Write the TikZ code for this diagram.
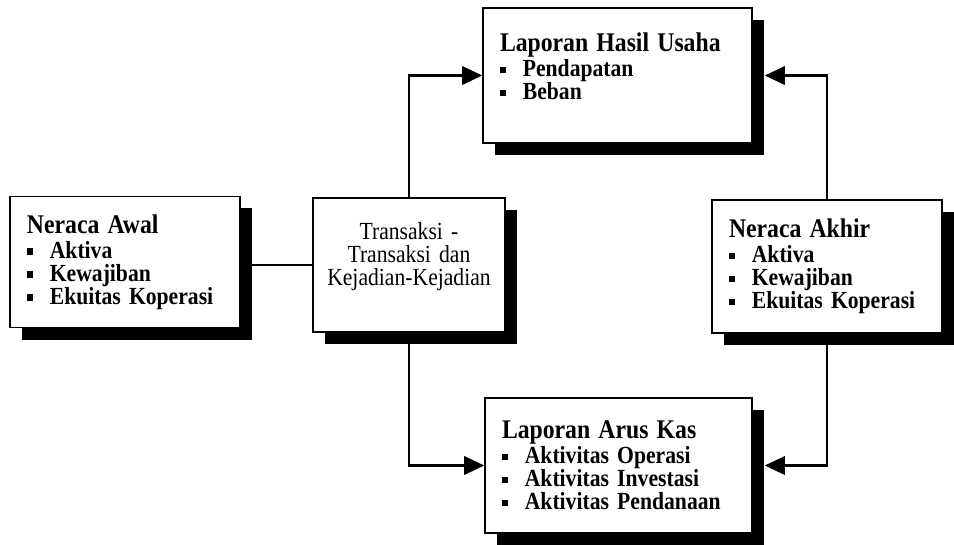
\documentclass[tikz,border=0pt]{standalone}
\usepackage{fontspec}
\setmainfont{Liberation Serif}
\newfontfamily\boxfont[FakeStretch=0.88]{Liberation Serif}
\usepackage{tikz}
\usetikzlibrary{arrows.meta, positioning, calc, shadows}

\newcommand{\itm}[1]{\rule[3pt]{5.5pt}{5.5pt}\hspace{14pt}#1}
\newcommand{\judul}[1]{{\fontsize{23}{19.6}\selectfont #1}\\[2pt]}

\begin{document}
\begin{tikzpicture}[x=0.03cm, y=-0.03cm,
    box/.style={draw, line width=1.3pt, rectangle, fill=white, align=left, inner xsep=0.51cm,
        font=\boxfont\fontsize{21}{19.6}\selectfont\bfseries,
        drop shadow={shadow xshift=0.36cm, shadow yshift=-0.36cm, fill=black, opacity=1}},
    link/.style={line width=2pt},
    arr/.style={line width=2pt, -{Triangle[length=0.6cm, width=0.55cm]}}]

    \useasboundingbox (0,0) rectangle (954,545);

    \node [box, text width=5.88cm, minimum height=3.93cm] (awal) at (125, 262) {\judul{Neraca Awal} \itm{Aktiva}\\ \itm{Kewajiban}\\ \itm{Ekuitas Koperasi}};
    \node [box, align=center, text width=5.5cm, inner xsep=0.13cm, minimum height=4.02cm, font=\boxfont\fontsize{21}{19.6}\selectfont] (trans) at (409, 265) {Transaksi -\\ Transaksi dan\\ Kejadian-Kejadian\\ \mbox{}};
    \node [box, text width=7.05cm, minimum height=4.05cm] (hasil) at (617.5, 75.5) {\judul{Laporan Hasil Usaha} \itm{Pendapatan}\\ \itm{Beban}\\[-4pt] \mbox{}};
    \node [box, text width=5.88cm, minimum height=3.99cm] (akhir) at (827, 266.5) {\judul{Neraca Akhir} \itm{Aktiva}\\ \itm{Kewajiban}\\ \itm{Ekuitas Koperasi}};
    \node [box, text width=6.99cm, minimum height=4.05cm] (arus) at (618.5, 465.5) {\judul{Laporan Arus Kas} \itm{Aktivitas Operasi}\\ \itm{Aktivitas Investasi}\\ \itm{Aktivitas Pendanaan}};

    \draw [link] (awal.east |- trans.west) -- (trans.west);
    \draw [arr] (trans.north) |- (hasil.west);
    \draw [arr] (trans.south) |- (arus.west);
    \draw [arr, shorten >=0.36cm] (akhir.north) |- (hasil.east);
    \draw [arr, shorten >=0.36cm] (akhir.south) |- (arus.east);
\end{tikzpicture}
\end{document}
